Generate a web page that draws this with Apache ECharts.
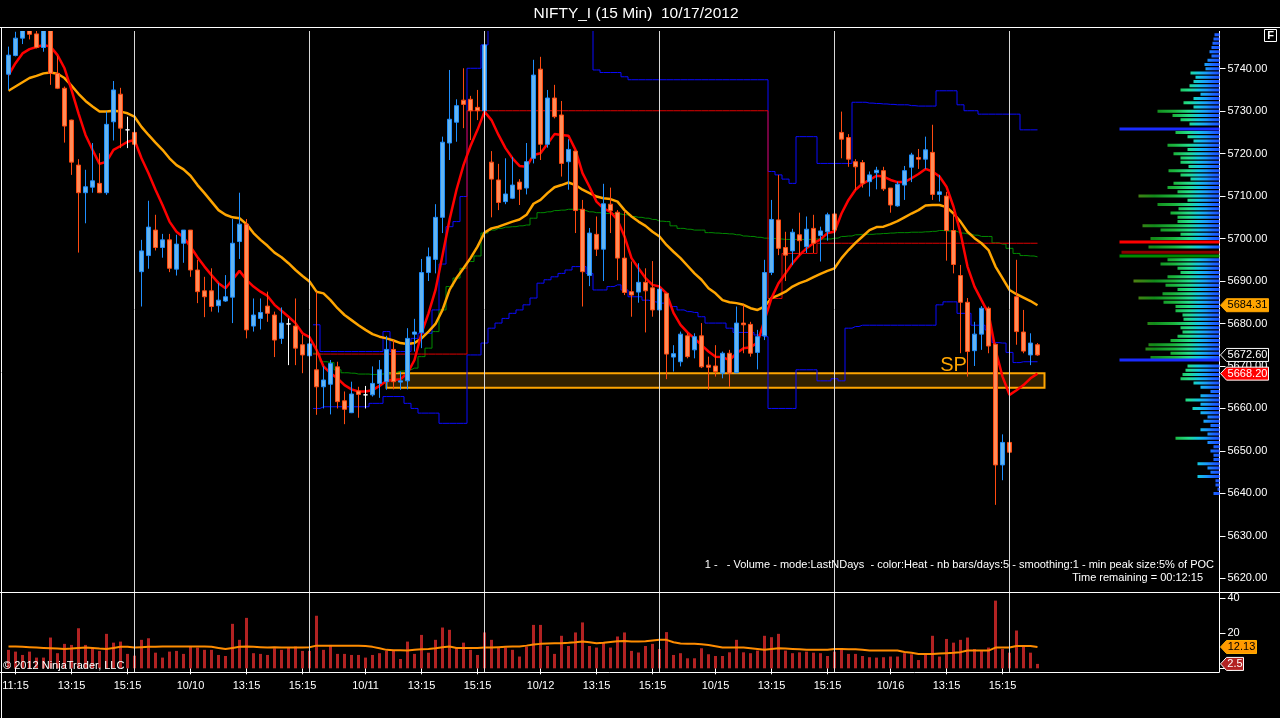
<!DOCTYPE html>
<html><head><meta charset="utf-8">
<script src="https://cdn.jsdelivr.net/npm/echarts@6/dist/echarts.min.js"></script>
<style>html,body{margin:0;padding:0;background:#000;}#c{width:1280px;height:718px;}</style>
</head><body><div id="c"></div>
<script>
// ---------------- DATA ----------------
const days = ['10/9','10/10','10/11','10/12','10/15','10/16','10/17'];
const sessionTimes = ['9:30','9:45','10:00','10:15','10:30','10:45','11:00','11:15','11:30','11:45','12:00','12:15','12:30','12:45','13:00','13:15','13:30','13:45','14:00','14:15','14:30','14:45','15:00','15:15','15:30'];
const firstDayStart = '11:00';
const lastDayEnd = '10:15';
const axisTimes = ['11:15','13:15','15:15'];
const dayLabelTime = '11:15';

const opens = [5738.7,5743.1,5747.2,5750.0,5748.2,5745.0,5751.0,5738.9,5735.4,5727.9,5717.3,5710.8,5712.1,5713.0,5710.8,5727.5,5734.0,5725.6,5725.0,
5692.2,5696.0,5702.0,5697.9,5699.7,5692.8,5698.9,5702.0,5692.6,5687.7,5687.7,5684.2,5685.3,5686.2,5699.3,5703.4,5679.4,5681.2,5684.1,5682.0,5676.5,5679.9,5679.4,5675.0,5672.4,
5669.1,5665.1,5665.7,5669.8,5661.8,5659.0,5664.1,5663.2,5663.2,5665.9,5666.3,5673.9,5666.2,5666.5,5677.5,5677.9,5692.0,5695.1,5705.0,5722.5,5727.4,5732.6,5732.8,5730.9,5730.1,
5718.0,5713.8,5708.7,5709.5,5713.3,5711.9,5718.9,5739.9,5722.2,5733.1,5729.1,5718.1,5720.6,5706.9,5691.3,5701.0,5697.5,5708.1,5706.2,5695.4,5687.5,5687.4,5689.7,5688.4,5683.2,
5687.1,5672.1,5671.0,5677.1,5673.8,5677.1,5670.2,5670.0,5668.3,5673.0,5668.4,5680.1,5679.8,5673.2,5677.1,5692.0,5704.4,5697.9,5697.1,5700.9,5698.1,5702.4,5700.7,5701.6,5705.8,
5725.0,5723.8,5718.1,5717.9,5713.4,5715.5,5716.0,5711.9,5707.7,5712.6,5716.8,5719.1,5718.7,5720.3,5710.4,5710.0,5701.9,5691.3,5685.0,5673.6,5677.5,5683.6,5675.1,5646.7,5652.0,
5686.3,5678.0,5672.6,5675.0];
const closes = [5743.2,5747.2,5752.0,5748.1,5745.0,5750.0,5738.9,5735.4,5726.5,5718.0,5710.8,5712.2,5713.6,5710.8,5726.9,5735.0,5726.0,5725.6,5722.2,
5697.1,5702.7,5697.9,5699.7,5693.0,5698.7,5702.0,5692.6,5687.5,5686.3,5684.0,5685.5,5686.3,5698.9,5703.4,5678.5,5682.0,5682.6,5682.4,5676.1,5680.1,5679.9,5674.2,5672.6,5675.2,
5665.1,5666.7,5670.6,5661.6,5659.8,5663.4,5663.3,5663.2,5665.9,5669.1,5673.9,5666.3,5666.5,5676.5,5678.0,5692.0,5695.7,5705.0,5722.7,5728.1,5731.3,5731.6,5730.1,5730.1,5745.6,
5714.0,5708.5,5710.5,5712.6,5711.6,5718.1,5738.5,5722.2,5733.1,5728.7,5717.7,5721.0,5706.6,5692.2,5701.3,5697.5,5708.2,5706.6,5695.4,5687.3,5686.7,5689.7,5687.7,5683.2,5688.1,
5672.8,5672.9,5677.5,5672.2,5676.9,5669.8,5669.7,5668.7,5673.0,5668.3,5680.1,5679.7,5673.0,5676.9,5692.0,5704.5,5697.7,5696.1,5701.5,5699.5,5702.2,5698.9,5701.8,5705.6,5702.0,
5723.4,5718.7,5716.9,5713.0,5715.0,5716.1,5711.7,5707.9,5712.8,5716.0,5719.7,5718.7,5720.9,5710.4,5711.0,5701.9,5693.9,5685.0,5673.4,5677.5,5683.6,5674.7,5646.7,5652.0,5649.7,
5678.1,5673.5,5675.4,5672.6];
const lows = [5735.0,5742.9,5745.8,5746.9,5744.8,5744.0,5736.2,5735.2,5722.6,5715.0,5696.7,5703.6,5710.8,5710.7,5710.3,5723.1,5721.3,5721.3,5720.1,
5684.0,5692.9,5697.2,5695.5,5692.1,5691.3,5694.3,5691.0,5684.8,5681.5,5682.8,5682.6,5685.1,5680.1,5695.2,5676.5,5678.1,5678.6,5680.4,5672.1,5675.2,5670.2,5670.2,5668.3,5666.7,
5658.5,5660.0,5658.6,5660.0,5656.3,5658.9,5657.8,5660.0,5662.8,5662.5,5664.4,5664.5,5664.4,5664.5,5673.4,5674.2,5690.0,5691.8,5701.3,5718.5,5722.8,5726.0,5723.2,5727.9,5730.0,
5705.0,5706.7,5708.1,5709.3,5707.9,5710.4,5717.7,5718.5,5721.4,5728.3,5714.6,5711.5,5701.3,5684.0,5688.8,5695.9,5690.0,5701.3,5690.2,5686.7,5681.6,5684.9,5677.9,5681.6,5680.1,
5666.9,5668.7,5669.9,5671.8,5671.8,5669.5,5664.4,5667.5,5667.1,5665.1,5668.3,5673.0,5672.2,5669.2,5676.1,5691.4,5696.1,5690.0,5693.8,5696.1,5696.6,5696.6,5694.6,5699.5,5699.3,
5718.9,5716.9,5711.4,5712.0,5709.9,5711.6,5711.2,5706.1,5707.5,5709.1,5713.3,5716.4,5716.4,5709.1,5708.7,5694.8,5691.8,5673.0,5667.5,5670.0,5673.8,5673.0,5637.3,5643.1,5649.5,
5675.0,5673.0,5670.2,5672.4];
const highs = [5745.2,5748.7,5753.0,5752.0,5749.5,5752.0,5752.5,5743.0,5735.8,5728.0,5718.7,5716.2,5722.5,5720.1,5729.9,5737.1,5735.5,5728.7,5727.2,
5699.7,5708.9,5705.6,5701.1,5701.1,5700.9,5702.0,5702.0,5695.0,5691.0,5693.0,5689.5,5691.4,5704.6,5710.8,5704.6,5685.9,5685.9,5687.5,5682.8,5683.8,5681.2,5685.9,5677.3,5676.5,
5687.5,5669.9,5671.4,5671.0,5664.0,5666.3,5665.1,5665.3,5669.9,5671.4,5677.1,5676.1,5668.7,5678.9,5681.1,5695.2,5697.9,5708.1,5724.0,5739.7,5732.8,5740.1,5733.6,5735.0,5748.7,
5720.6,5717.6,5718.9,5719.2,5714.0,5722.5,5742.1,5742.8,5735.0,5736.2,5732.4,5723.4,5720.6,5709.1,5702.5,5705.2,5712.9,5712.0,5706.7,5706.3,5694.6,5694.2,5693.0,5694.7,5690.3,
5687.1,5674.9,5678.1,5677.7,5677.7,5680.1,5672.2,5674.9,5673.4,5673.8,5684.0,5684.4,5680.4,5678.5,5695.0,5709.1,5715.0,5701.6,5702.3,5706.1,5705.2,5705.6,5702.8,5706.1,5708.2,
5729.9,5724.6,5718.7,5718.5,5715.8,5716.9,5716.9,5711.9,5713.4,5717.1,5720.2,5721.1,5724.0,5726.8,5715.0,5711.0,5706.1,5693.8,5686.0,5680.4,5684.1,5684.0,5675.3,5653.9,5658.1,
5695.0,5683.2,5677.7,5675.4];

const emaLine = [5738.5,5741.3,5743.6,5744.6,5745.1,5745.6,5745.2,5743.2,5740.1,5735.0,5729.5,5724.4,5720.9,5717.6,5718.1,5720.9,5721.8,5722.8,5723.2,
5718.9,5715.4,5711.5,5707.9,5704.0,5701.6,5700.3,5698.1,5695.6,5693.4,5691.4,5689.5,5688.3,5690.3,5692.4,5690.3,5688.7,5687.5,5686.5,5684.4,5683.0,5681.6,5680.1,5677.7,5676.8,
5673.8,5669.9,5668.3,5667.1,5665.5,5664.5,5664.0,5664.0,5664.3,5665.3,5666.5,5666.7,5666.9,5668.3,5671.4,5677.7,5682.4,5687.9,5696.1,5704.4,5711.5,5717.3,5721.8,5725.6,5729.9,
5727.9,5724.4,5721.3,5718.9,5717.1,5716.9,5719.7,5720.1,5722.3,5724.6,5724.4,5724.2,5720.9,5715.4,5712.2,5708.7,5707.1,5706.3,5704.4,5700.5,5695.4,5693.0,5690.7,5689.1,5688.7,
5687.1,5682.5,5679.7,5677.9,5676.5,5674.9,5673.4,5672.2,5672.1,5671.4,5673.0,5674.2,5674.4,5675.5,5680.8,5686.0,5689.5,5691.8,5694.2,5696.1,5697.7,5698.9,5699.8,5701.3,5701.6,
5705.9,5709.1,5711.5,5712.9,5713.8,5714.8,5714.6,5713.8,5713.3,5713.3,5714.2,5715.2,5716.4,5715.8,5714.6,5712.2,5707.5,5701.3,5693.4,5688.7,5685.5,5682.4,5673.8,5667.5,5663.2,
5664.3,5665.5,5667.1,5668.2];
const smaLine = [5734.8,5735.8,5736.8,5737.8,5738.3,5738.9,5739.1,5738.8,5737.8,5736.0,5734.1,5732.4,5731.1,5729.9,5729.9,5730.1,5729.9,5729.5,5728.7,
5726.3,5724.4,5722.6,5720.9,5718.9,5717.3,5716.3,5714.8,5712.6,5710.7,5708.7,5706.7,5705.6,5705.0,5704.8,5703.4,5701.3,5699.7,5698.3,5696.7,5695.6,5694.2,5692.6,5691.2,5689.9,
5687.5,5687.1,5685.5,5683.6,5682.0,5680.8,5679.6,5678.5,5677.5,5676.9,5676.5,5676.0,5675.4,5675.2,5675.4,5676.5,5678.1,5679.9,5683.2,5687.9,5690.7,5693.0,5695.4,5698.1,5701.4,
5702.4,5702.8,5703.4,5704.0,5704.5,5705.6,5708.2,5709.1,5710.7,5712.1,5712.6,5713.2,5712.6,5711.5,5710.7,5709.9,5709.5,5709.3,5708.7,5706.7,5705.2,5704.0,5703.0,5701.6,5700.5,
5698.5,5696.9,5695.4,5693.6,5691.8,5690.3,5688.3,5687.1,5685.5,5685.0,5684.8,5684.4,5683.6,5683.2,5684.0,5686.0,5686.7,5687.5,5688.7,5689.5,5690.1,5690.9,5691.7,5692.4,5693.0,
5695.4,5697.3,5699.0,5700.5,5702.0,5702.7,5702.8,5703.4,5704.1,5705.0,5705.9,5706.7,5707.8,5707.9,5707.9,5707.4,5705.9,5704.0,5701.6,5700.1,5698.9,5697.3,5693.4,5690.7,5687.9,
5686.9,5686.1,5685.3,5684.31];

// step lines, starting on 10/11 (bar 44)
const stepStart = 44;
const greenStep = [5673.0,5671.0,5670.8,5669.1,5668.4,5668.3,5668.1,5668.1,5668.0,5668.1,5668.3,5668.5,5668.8,5669.1,5669.5,5672.2,5674.2,5678.1,5683.2,5688.7,5690.7,5693.0,5694.6,5695.9,5701.3,
5702.0,5702.4,5702.7,5702.8,5703.0,5703.2,5704.8,5706.1,5706.3,5706.6,5706.7,5706.9,5706.9,5706.6,5706.3,5706.1,5705.9,5705.9,5705.8,5705.6,5705.2,5705.0,5704.8,5704.5,5704.1,
5704.0,5703.0,5702.4,5702.2,5702.0,5702.0,5701.4,5701.3,5701.2,5701.1,5700.9,5700.6,5700.5,5700.3,5700.1,5700.0,5699.9,5699.8,5699.8,5699.8,5699.8,5699.9,5699.9,5699.9,5700.1,
5700.5,5700.6,5700.9,5701.0,5701.0,5701.1,5701.2,5701.3,5701.4,5701.4,5701.5,5701.5,5701.6,5701.7,5701.9,5701.8,5701.7,5701.3,5701.1,5700.8,5700.5,5700.5,5699.0,5698.7,5697.7,
5696.5,5696.0,5695.9,5695.7];
const blueUpper = [5679.7,5673.4,5673.4,5673.4,5673.4,5673.4,5673.4,5673.4,5673.4,5673.4,5678.1,5673.4,5673.4,5673.4,5676.5,5677.7,5677.7,5683.2,5694.0,5702.8,5704.0,5709.9,5740.1,5740.1,5745.6,
5760,5760,5760,5760,5760,5760,5760,5760,5760,5760,5760,5760,5760,5760,5760,5739.7,5739.1,5739.1,5739.1,5738.1,5737.4,5737.4,5737.4,5737.4,5737.4,
5737.4,5737.4,5737.4,5737.4,5737.4,5737.4,5737.4,5737.4,5737.4,5737.4,5737.4,5737.4,5737.4,5737.4,5737.4,5715.8,5715.0,5714.0,5713.0,5724.0,5724.0,5724.0,5717.7,5717.7,5717.7,
5717.7,5717.7,5732.1,5732.1,5731.9,5731.8,5731.7,5731.6,5731.5,5731.5,5731.3,5731.2,5731.2,5731.2,5734.8,5734.8,5734.8,5731.5,5730.1,5730.1,5729.3,5729.3,5729.3,5729.3,5729.3,
5729.3,5725.6,5725.6,5725.6];
const blueLower = [5660.0,5660.4,5660.4,5660.4,5660.4,5660.4,5660.4,5660.4,5661.2,5661.2,5662.8,5662.8,5662.8,5661.2,5660.0,5658.9,5658.9,5658.9,5656.5,5656.5,5656.5,5656.5,5672.6,5672.6,5675.4,
5678.9,5680.1,5681.2,5682.4,5683.2,5684.4,5686.0,5689.5,5690.3,5691.0,5691.8,5692.6,5693.4,5693.4,5691.8,5687.9,5687.9,5688.7,5689.1,5687.9,5686.3,5686.3,5685.5,5685.1,5684.8,
5684.8,5684.0,5683.2,5682.8,5682.6,5681.6,5680.1,5680.1,5680.1,5678.9,5677.9,5677.9,5677.9,5677.3,5676.9,5660.0,5660.0,5660.0,5660.0,5669.1,5669.1,5669.1,5666.5,5666.5,5667.0,
5666.5,5678.9,5679.3,5679.6,5679.6,5679.6,5679.6,5679.6,5679.6,5679.6,5679.6,5679.6,5679.6,5679.6,5684.4,5685.1,5685.1,5682.4,5682.4,5679.6,5679.6,5678.5,5675.5,5675.4,5673.2,
5670.8,5671.0,5671.0,5671.0];
const redStep = [5672.8,5672.8,5672.8,5672.8,5672.8,5672.8,5672.8,5672.8,5672.8,5672.8,5672.8,5672.8,5672.8,5672.8,5672.8,5672.8,5672.8,5672.8,5672.8,5672.8,5672.8,5672.8,
5730.1,5730.1,5730.1,5730.1,5730.1,5730.1,5730.1,5730.1,5730.1,5730.1,5730.1,5730.1,5730.1,5730.1,5730.1,5730.1,5730.1,5730.1,5730.1,5730.1,5730.1,5730.1,5730.1,5730.1,5730.1,
5730.1,5730.1,5730.1,5730.1,5730.1,5730.1,5730.1,5730.1,5730.1,5730.1,5730.1,5730.1,5730.1,5730.1,5730.1,5730.1,5730.1,5730.1,
5685.9,5685.9,5696.5,5696.5,5696.5,5696.5,5696.5,
5698.9,5698.9,5698.9,5698.9,5698.9,5698.9,5698.9,5698.9,5698.9,5698.9,5698.9,5698.9,5698.9,5698.9,5698.9,5698.9,5698.9,5698.9,5698.9,5698.9,5698.9,5698.9,5698.9,5698.9,5698.9,5698.9,5698.9,5698.9,5698.9,5698.9,5698.9,5698.9];

const volume = [10.5,9.5,7.6,9.5,6.1,6.1,17.5,8.6,13.9,13.3,22.8,13.3,11.8,9.9,19.6,14.6,15.2,8.2,7.2,
16.2,17.1,8.9,6.1,9.5,9.9,8.2,12.7,11.8,10.5,10.5,7.6,7.0,25.3,16.2,28.7,8.6,8.2,7.6,11.4,10.5,12.0,12.4,9.9,9.9,
29.9,10.5,13.3,8.2,8.2,7.6,7.6,6.1,7.6,8.6,9.9,9.9,5.3,15.2,8.2,19.0,8.9,16.2,23.2,21.9,11.8,14.6,10.5,7.6,20.4,
16.2,11.8,11.8,10.5,6.7,12.4,24.7,24.7,12.7,8.2,18.5,12.7,20.4,26.1,12.7,11.8,14.6,11.8,18.1,20.4,9.9,9.0,12.7,13.9,11.0,
20.6,7.6,8.6,5.7,5.7,11.4,8.0,7.0,7.0,9.1,16.2,9.1,8.6,10.1,18.5,17.7,19.6,10.1,8.6,9.1,9.5,8.9,8.6,7.0,9.5,
10.8,8.2,8.2,7.0,6.3,6.1,6.3,6.7,6.7,8.6,8.0,4.7,7.6,18.5,6.7,16.7,14.6,16.2,17.5,11.0,10.1,11.8,38.5,11.0,8.9,
21.5,12.4,8.9,2.5];
const volAvg = [12.4,12.4,12.2,12.0,11.8,11.6,11.4,11.2,11.0,11.2,11.6,11.8,11.6,11.2,11.0,11.6,12.2,12.2,11.8,
12.0,12.2,12.2,12.4,12.4,12.4,12.4,12.4,12.4,12.4,12.2,11.6,11.0,11.6,12.2,12.4,12.2,12.0,11.8,12.0,11.8,11.8,11.8,11.8,12.0,
12.9,12.9,12.9,12.9,12.9,12.9,12.9,12.7,12.2,11.4,10.5,10.3,10.3,10.1,10.5,10.8,11.0,11.4,12.0,12.4,11.6,11.6,11.6,11.6,11.8,
11.8,12.0,12.2,12.4,12.4,12.9,13.5,13.9,14.1,14.3,14.3,14.5,14.8,15.2,14.8,14.3,14.5,15.0,15.4,15.6,15.2,15.2,15.4,15.8,16.2,
16.2,14.8,14.1,13.9,13.9,13.7,13.3,12.6,11.8,11.8,11.8,11.8,11.4,11.0,10.5,11.0,11.4,11.2,11.0,10.8,10.5,10.5,10.5,10.5,11.0,
11.0,10.8,10.8,10.5,10.1,10.1,10.1,10.1,10.1,9.3,8.8,8.2,8.2,8.2,8.4,8.6,8.8,9.2,10.1,10.1,10.1,10.1,11.8,11.8,11.8,
12.7,12.7,12.7,12.13];

// volume profile (right side), price level 5640..5748 in 1-point steps
const profileStart = 5640;
const profileLengths = [6,2,4,4,22,9,12,22,6,6,9,6,12,44,12,19,9,16,12,19,27,19,34,19,9,19,26,39,37,34,32,0,69,49,74,71,49,42,37,39,
72,36,37,44,44,56,81,57,42,54,86,52,39,42,59,52,0,0,71,0,69,39,59,77,42,42,49,41,62,32,81,42,52,46,29,39,51,31,39,39,
46,32,52,26,32,44,0,30,39,47,62,26,36,26,19,39,30,26,24,29,14,15,12,8,10,8,7,6,5];
const pocPrices = [5725.8, 5699.2, 5696.8, 5695.9, 5671.4];
const pocLengths = [100, 100, 98, 100, 100];

const priceTicks = [5620,5630,5640,5650,5660,5670,5680,5690,5700,5710,5720,5730,5740];
const volTicks = [0,20,40];

const zoneBars = [54, 148];
const zonePrices = [5668.3, 5664.9];
const spBar = 135, spPrice = 5670.0;

// ---------------- BUILD ----------------
const catInfo = [null];
days.forEach((d, di) => {
  let s = 0, e = sessionTimes.length - 1;
  if (di === 0) s = sessionTimes.indexOf(firstDayStart);
  if (di === days.length - 1) e = sessionTimes.indexOf(lastDayEnd);
  for (let k = s; k <= e; k++) catInfo.push({day: di, time: sessionTimes[k]});
});
const nBars = catInfo.length - 1;
while (catInfo.length < 175) catInfo.push(null);
const cats = catInfo.map((c, k) => c ? days[c.day] + ' ' + c.time : 'pad' + k);
const lead = 1;
function labelOf(k) {
  const c = catInfo[k];
  if (!c) return '';
  if (c.time === dayLabelTime) return c.day === 0 ? c.time : days[c.day];
  if (axisTimes.indexOf(c.time) >= 0) return c.time;
  return '';
}
const sessionEnds = [];
catInfo.forEach((c, k) => { if (c && c.time === '15:30' && c.day < days.length - 1) sessionEnds.push(k); });

const ohlc = ['-'].concat(opens.map((o, i) => [o, closes[i], lows[i], highs[i]]));
const withLead = arr => ['-'].concat(arr);
const stepData = arr => { const a = ['-']; for (let i = 0; i < stepStart; i++) a.push('-'); return a.concat(arr); };

const FONT = 'Arial, "Liberation Sans", sans-serif';
const heatStops = [
  {offset:0, color:'#1a4cff'}, {offset:0.07, color:'#1a6cff'}, {offset:0.13, color:'#1a98fa'},
  {offset:0.21, color:'#12c4e4'}, {offset:0.31, color:'#22dc8c'}, {offset:0.45, color:'#1cb63e'},
  {offset:0.65, color:'#128a1a'}, {offset:0.85, color:'#4c8012'}, {offset:1, color:'#8a8600'}
];
const pocColors = ['#1a2cff', '#ff0000', '#8b0000', '#008a00', '#1a2cff'];

const sessionMark = {
  silent: true, symbol: ['none','none'], label: {show:false},
  lineStyle: {color:'#d8d8d8', width:1, type:'solid'},
  emphasis: {disabled: true},
  data: sessionEnds.map(k => ({xAxis: k}))
};

const chart = echarts.init(document.getElementById('c'), null, {renderer:'canvas', width:1280, height:718});
const option = {
  backgroundColor: '#000',
  animation: false,
  textStyle: {fontFamily: FONT},
  grid: [
    {left: 1.5, right: 60.5, top: 27, height: 565, outerBoundsMode: 'none'},
    {left: 1.5, right: 60.5, top: 593, height: 79, outerBoundsMode: 'none'},
    {left: 1119.5, right: 60.5, top: 27, height: 565, outerBoundsMode: 'none'}
  ],
  xAxis: [
    {type:'category', gridIndex:0, data:cats, boundaryGap:false, show:false},
    {type:'category', gridIndex:1, data:cats, boundaryGap:false,
      axisLine:{show:false},
      axisTick:{show:true, length:6, interval:(k)=>labelOf(k)!=='', lineStyle:{color:'#fff'}},
      axisLabel:{show:true, interval:(k)=>labelOf(k)!=='', formatter:(v, k)=>labelOf(k), color:'#fff', fontSize:11, margin:8, fontFamily:FONT},
      splitLine:{show:false}},
    {type:'value', gridIndex:2, min:0, max:100, inverse:true, show:false}
  ],
  yAxis: [
    {type:'value', gridIndex:0, position:'right', min:5616.78, max:5749.82,
      axisLine:{show:true, lineStyle:{color:'#fff', width:1}},
      axisTick:{show:true, length:6, customValues:priceTicks, lineStyle:{color:'#fff'}},
      axisLabel:{show:true, customValues:priceTicks, formatter:v=>Number(v).toFixed(2), color:'#fff', fontSize:11, margin:8, fontFamily:FONT},
      splitLine:{show:false}},
    {type:'value', gridIndex:1, position:'right', min:-2.1, max:42.84,
      axisLine:{show:true, lineStyle:{color:'#fff', width:1}},
      axisTick:{show:true, length:6, customValues:volTicks, lineStyle:{color:'#fff'}},
      axisLabel:{show:true, customValues:volTicks, formatter:v=>String(v), color:'#fff', fontSize:11, margin:8, fontFamily:FONT},
      splitLine:{show:false}},
    {type:'value', gridIndex:2, min:5616.78, max:5749.82, show:false}
  ],
  series: [
    {type:'line', name:'poc', xAxisIndex:0, yAxisIndex:0, data:stepData(greenStep), step:'middle', showSymbol:false, z:1,
      lineStyle:{color:'#008a00', width:1}, emphasis:{disabled:true},
      markLine: sessionMark,
      markArea: {silent:true, itemStyle:{color:'rgba(255,165,0,0.2)', borderColor:'#ffa500', borderWidth:2},
        data:[[{xAxis: zoneBars[0] + lead, yAxis: zonePrices[0]}, {xAxis: zoneBars[1] + lead, yAxis: zonePrices[1]}]]},
      markPoint: {silent:true, symbol:'rect', symbolSize:[1,1], itemStyle:{color:'rgba(0,0,0,0)'},
        label:{show:true, position:'inside', formatter:'SP', color:'#ffa500', fontSize:20, fontFamily:FONT},
        data:[{coord:[spBar + lead, spPrice]}]}
    },
    {type:'line', name:'vah', xAxisIndex:0, yAxisIndex:0, data:stepData(blueUpper), step:'middle', showSymbol:false, z:1,
      lineStyle:{color:'#0a0aff', width:1}, emphasis:{disabled:true}},
    {type:'line', name:'val', xAxisIndex:0, yAxisIndex:0, data:stepData(blueLower), step:'middle', showSymbol:false, z:1,
      lineStyle:{color:'#0a0aff', width:1}, emphasis:{disabled:true}},
    {type:'line', name:'prev', xAxisIndex:0, yAxisIndex:0, data:stepData(redStep), step:'middle', showSymbol:false, z:1,
      lineStyle:{color:'#e00000', width:1}, emphasis:{disabled:true}},
    {type:'line', name:'sma', xAxisIndex:0, yAxisIndex:0, data:withLead(smaLine), showSymbol:false, z:2,
      lineStyle:{color:'#ffa500', width:2.5}, emphasis:{disabled:true}},
    {type:'line', name:'ema', xAxisIndex:0, yAxisIndex:0, data:withLead(emaLine), showSymbol:false, z:2,
      lineStyle:{color:'#ff0000', width:2.5}, emphasis:{disabled:true}},
    {type:'candlestick', xAxisIndex:0, yAxisIndex:0, data:ohlc, barWidth:5, z:4, clip:true,
      itemStyle:{color:'#64b4f0', color0:'#ff8c58', borderColor:'#1e8fff', borderColor0:'#ff4a10', borderColorDoji:'#ffffff', borderWidth:1},
      emphasis:{disabled:true}},
    {type:'bar', xAxisIndex:1, yAxisIndex:1, data:withLead(volume), barWidth:3, itemStyle:{color:'#b22222'}, z:2,
      emphasis:{disabled:true}, markLine: sessionMark},
    {type:'line', xAxisIndex:1, yAxisIndex:1, data:withLead(volAvg), showSymbol:false, z:3,
      lineStyle:{color:'#ff8c00', width:2}, emphasis:{disabled:true}},
    {type:'custom', xAxisIndex:2, yAxisIndex:2, z:3, silent:true,
      data: profileLengths.map((len, k) => [len, profileStart + k]),
      renderItem: (params, api) => {
        const len = api.value(0), p = api.value(1);
        if (!len) return null;
        const a = api.coord([0, p]), b = api.coord([len, p]), e = api.coord([100, p]);
        const h = 3;
        return {type:'rect', shape:{x:b[0], y:a[1]-h/2, width:a[0]-b[0], height:h},
          style:{fill: new echarts.graphic.LinearGradient(a[0], 0, e[0], 0, heatStops, true)}};
      }},
    {type:'custom', xAxisIndex:2, yAxisIndex:2, z:4, silent:true,
      data: pocPrices.map((p, k) => [pocLengths[k], p, k]),
      renderItem: (params, api) => {
        const len = api.value(0), p = api.value(1), k = api.value(2);
        const a = api.coord([0, p]), b = api.coord([len, p]);
        return {type:'rect', shape:{x:b[0], y:a[1]-1.5, width:a[0]-b[0], height:3}, style:{fill: pocColors[k]}};
      }}
  ]
};
chart.setOption(option);

// ---------------- DECORATIONS ----------------
const g = [];
// header band: hides anything drawn above the price pane
g.push({type:'rect', silent:true, z:45, shape:{x:0, y:0, width:1280, height:31}, style:{fill:'#000'}});
const line = (x1,y1,x2,y2) => g.push({type:'line', silent:true, z:50, shape:{x1,y1,x2,y2}, style:{stroke:'#fff', lineWidth:1}});
line(0,27.5,1280,27.5);
line(0,592.5,1280,592.5);
line(0,672.5,1219.5,672.5);
line(1.5,27,1.5,718);
const txt = (x, y, text, size, color, align, weight) => g.push({type:'text', silent:true, z:60, x, y,
  style:{text, fill:color, font:(weight||'normal') + ' ' + size + 'px ' + FONT, align, verticalAlign:'middle', textAlign:align, textVerticalAlign:'middle'}});
txt(636, 13.5, 'NIFTY_I (15 Min)  10/17/2012', 15.5, '#fff', 'center');
txt(1214, 565, '1 -   - Volume - mode:LastNDays  - color:Heat - nb bars/days:5 - smoothing:1 - min peak size:5% of POC', 11, '#fff', 'right');
txt(1203, 577.5, 'Time remaining = 00:12:15', 11, '#fff', 'right');
txt(3, 666, '\u00a9 2012 NinjaTrader, LLC', 11, '#fff', 'left');
g.push({type:'rect', silent:true, z:60, shape:{x:1264.5, y:29.5, width:12, height:12}, style:{fill:'#000', stroke:'#fff', lineWidth:1}});
txt(1270.5, 36, 'F', 11, '#fff', 'center', 'bold');

const last = nBars - 1;
const tags = [
  {axis:0, value: smaLine[last], text: smaLine[last].toFixed(2), fill:'#ffa500', stroke:'#ffa500', color:'#000', w:48},
  {axis:0, value: closes[last], text: closes[last].toFixed(2), fill:'#000', stroke:'#fff', color:'#fff', w:48},
  {axis:0, value: emaLine[last], text: emaLine[last].toFixed(2), fill:'#ff0000', stroke:'#fff', color:'#fff', w:48},
  {axis:1, value: volAvg[last], text: String(volAvg[last]), fill:'#ff9900', stroke:'#ffb000', color:'#000', w:36},
  {axis:1, value: volume[last], text: String(volume[last]), fill:'#b22222', stroke:'#fff', color:'#fff', w:23}
];
tags.forEach(t => {
  const y = chart.convertToPixel({yAxisIndex: t.axis}, t.value);
  const x0 = 1220.5, h = 6.5;
  g.push({type:'polygon', silent:true, z:70, shape:{points:[[x0, y], [x0+6, y-h], [x0+t.w, y-h], [x0+t.w, y+h], [x0+6, y+h]]},
    style:{fill:t.fill, stroke:t.stroke, lineWidth:1}});
  g.push({type:'text', silent:true, z:71, x: x0 + 6 + (t.w-6)/2, y: y,
    style:{text:t.text, fill:t.color, font:'11px ' + FONT, align:'center', verticalAlign:'middle', textAlign:'center', textVerticalAlign:'middle'}});
});
chart.setOption({graphic: g});
</script></body></html>
